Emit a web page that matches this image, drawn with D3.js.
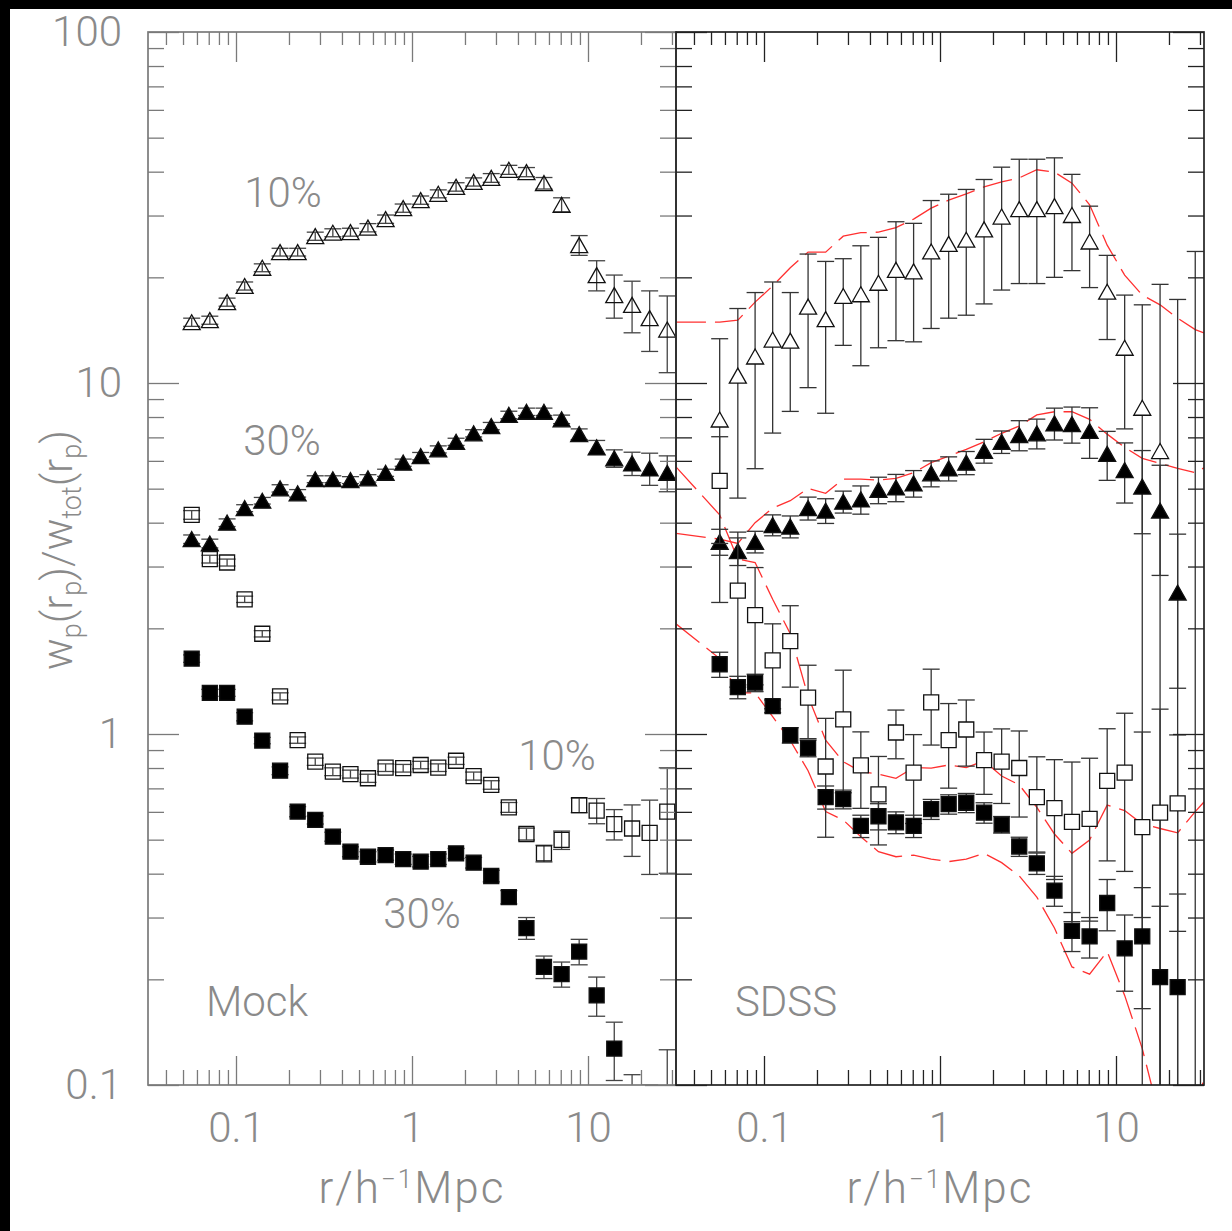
<!DOCTYPE html>
<html>
<head>
<meta charset="utf-8">
<script src="https://cdn.jsdelivr.net/npm/d3@7"></script>
<style>
  body { margin: 0; background: #000; }
  svg text { font-family: Roboto, "DejaVu Sans", sans-serif; font-weight: 300; fill: #8a8a8a; }
</style>
</head>
<body>
<svg id="chart" width="1232" height="1231"></svg>
<script>
// projected-separation bins, h^-1 Mpc
const rp = [0.056, 0.071, 0.089, 0.112, 0.141, 0.178, 0.224, 0.282, 0.355, 0.447, 0.562, 0.708, 0.891, 1.12,
            1.41, 1.78, 2.24, 2.82, 3.55, 4.47, 5.62, 7.08, 8.91, 11.2, 14.1, 17.8, 22.4, 28.2];

// mock catalogue (left panel)
const mockTri10 = [14.9, 15.1, 17.0, 18.9, 21.3, 23.6, 23.6, 26.2, 26.8, 26.9, 27.7, 29.3, 31.5, 33.2,
                   34.6, 36.2, 37.4, 38.4, 40.5, 39.9, 37.1, 32.2, 24.7, 20.3, 17.8, 16.7, 15.3, 14.2];
const mockTri10Err = [0.4, 0.4, 0.45, 0.5, 0.55, 0.6, 0.6, 0.7, 0.7, 0.7, 0.75, 0.8, 0.85, 0.9,
                      0.9, 1.0, 1.0, 1.1, 1.2, 1.2, 1.4, 1.5, 1.6, 2.0, 2.5, 2.8, 3.0, 3.5];
const mockTri30 = [3.59, 3.49, 4.00, 4.40, 4.62, 5.01, 4.85, 5.32, 5.32, 5.29, 5.35, 5.55, 5.93, 6.19,
                   6.47, 6.80, 7.19, 7.54, 8.11, 8.28, 8.28, 7.88, 7.15, 6.56, 6.10, 5.90, 5.71, 5.55];
const mockTri30Err = [0.1, 0.1, 0.1, 0.1, 0.1, 0.12, 0.12, 0.12, 0.12, 0.12, 0.13, 0.13, 0.14, 0.15,
                      0.15, 0.16, 0.17, 0.18, 0.2, 0.2, 0.2, 0.22, 0.25, 0.3, 0.35, 0.45, 0.6, 0.65];
const mockSq10 = [4.21, 3.15, 3.08, 2.42, 1.93, 1.28, 0.961, 0.834, 0.781, 0.769, 0.748, 0.802, 0.799, 0.816,
                  0.802, 0.839, 0.759, 0.716, 0.618, 0.519, 0.457, 0.499, 0.627, 0.605, 0.554, 0.538, 0.523, 0.601];
const mockSq10Err = [0.12, 0.08, 0.07, 0.05, 0.04, 0.03, 0.02, 0.02, 0.02, 0.02, 0.02, 0.02, 0.02, 0.02,
                     0.02, 0.02, 0.02, 0.02, 0.02, 0.02, 0.025, 0.03, 0.03, 0.05, 0.055, 0.09, 0.125, 0.2];
const mockSq30 = [1.64, 1.31, 1.31, 1.12, 0.958, 0.786, 0.601, 0.569, 0.510, 0.462, 0.447, 0.452, 0.440, 0.433,
                  0.440, 0.457, 0.430, 0.394, 0.343, 0.280, 0.217, 0.207, 0.240, 0.180, 0.127, 0.080, 0.070, 0.080];
const mockSq30Err = [0.04, 0.03, 0.03, 0.03, 0.02, 0.02, 0.02, 0.015, 0.015, 0.015, 0.015, 0.015, 0.015, 0.015,
                     0.015, 0.015, 0.015, 0.015, 0.015, 0.02, 0.016, 0.017, 0.02, 0.023, 0.024, 0.027, 0.03, 0.046];

// SDSS (right panel); null = no point
const sdssTri10 = [7.87, 10.5, 11.9, 13.3, 13.2, 16.5, 15.2, 17.7, 17.9, 19.3, 21.0, 20.8, 23.7, 24.9,
                   25.6, 27.4, 29.8, 31.3, 31.3, 31.9, 30.1, 25.3, 18.2, 12.6, 8.5, 6.4, -3, -5];
const sdssTri10Err = [5.5, 5.8, 6.2, 6.1, 4.9, 6.8, 7.0, 4.9, 6.7, 6.7, 7.8, 7.7, 9.4, 9.6,
                      10.0, 10.6, 11.4, 12.1, 12.1, 11.9, 9.2, 6.6, 4.9, 5.2, 8.2, 12.7, 20.3, 28.7];
const sdssTri30 = [3.53, 3.32, 3.53, 3.94, 3.90, 4.40, 4.33, 4.59, 4.66, 4.96, 5.04, 5.18, 5.53, 5.71,
                   5.93, 6.41, 6.80, 7.11, 7.19, 7.68, 7.64, 7.30, 6.28, 5.65, 5.07, 4.33, 2.53, null];
const sdssTri30Err = [0.3, 0.3, 0.25, 0.27, 0.28, 0.33, 0.35, 0.33, 0.43, 0.43, 0.45, 0.45, 0.47, 0.45,
                      0.45, 0.5, 0.5, 0.7, 0.7, 0.8, 0.9, 1.2, 1.0, 1.1, 1.35, 1.5, 1.18, null];
const sdssSq10 = [5.26, 2.56, 2.18, 1.62, 1.84, 1.27, 0.808, 1.10, 0.814, 0.673, 1.01, 0.776, 1.23, 0.961,
                  1.03, 0.843, 0.834, 0.80, 0.661, 0.615, 0.562, 0.573, 0.735, 0.776, 0.543, 0.597, 0.634, null];
const sdssSq10Err = [1.77, 1.2, 0.8, 0.44, 0.48, 0.3, 0.3, 0.42, 0.2, 0.19, 0.16, 0.22, 0.3, 0.26,
                     0.22, 0.17, 0.2, 0.22, 0.2, 0.23, 0.27, 0.28, 0.3, 0.37, 0.47, 0.58, 0.36, null];
const sdssSq30 = [1.58, 1.36, 1.40, 1.20, 0.992, 0.911, 0.661, 0.652, 0.547, 0.583, 0.560, 0.547, 0.611, 0.631,
                  0.637, 0.597, 0.552, 0.478, 0.428, 0.358, 0.275, 0.265, 0.330, 0.245, 0.265, 0.203, 0.190, null];
const sdssSq30Err = [0.13, 0.1, 0.08, 0.05, 0.05, 0.05, 0.05, 0.04, 0.04, 0.05, 0.04, 0.04, 0.04, 0.04,
                     0.04, 0.04, 0.03, 0.03, 0.03, 0.035, 0.035, 0.035, 0.055, 0.06, 0.1, 0.12, 0.16, null];

// mock curves repeated as red dashes on the SDSS panel, running out to the panel edges
const rEdge = [0.0316, 31.6];
const redStart = [14.9, 3.73, 5.77, 2.06];
const redEnd = [13.9, 5.73, 0.64, 0.105];

const xTickVals = [0.1, 1, 10];
const xTickLabels = ["0.1", "1", "10"];
const yTickVals = [0.1, 1, 10, 100];
const yTickLabels = ["0.1", "1", "10", "100"];

const svg = d3.select("#chart");
svg.append("rect").attr("x", 10).attr("y", 9).attr("width", 1222).attr("height", 1222).attr("fill", "#fff");

const top_ = 32, bottom = 1085;
const y = d3.scaleLog().domain([0.1, 100]).range([bottom, top_]);
const xL = d3.scaleLog().domain([Math.pow(10, -1.5), Math.pow(10, 1.5)]).range([148, 676]);
const xR = xL.copy().range([676, 1204]);

const isMajor = t => Math.abs(Math.log10(t) - Math.round(Math.log10(t))) < 1e-6;

function addAxis(axis, tx, ty, col, sw) {
  const g = svg.append("g").attr("transform", `translate(${tx},${ty})`)
    .call(axis).attr("font-size", null).attr("font-family", null).attr("color", col);
  g.select(".domain").remove();
  g.selectAll(".tick line").attr("stroke-width", sw);
  g.selectAll(".tick text").style("font-size", "42px");
  return g;
}

function drawFrame(x, x0, x1, col, sw, labels) {
  const minorX = x.ticks().filter(t => !isMajor(t));
  const minorY = y.ticks().filter(t => !isMajor(t));
  // bottom
  addAxis(d3.axisBottom(x).tickValues(minorX).tickSize(-15).tickFormat(""), 0, bottom, col, sw);
  addAxis(d3.axisBottom(x).tickValues(xTickVals).tickSize(-29).tickPadding(27)
    .tickFormat((d, i) => xTickLabels[i]), 0, bottom, col, sw);
  // top
  addAxis(d3.axisTop(x).tickValues(minorX).tickSize(-13).tickFormat(""), 0, top_, col, sw);
  addAxis(d3.axisTop(x).tickValues(xTickVals).tickSize(-30).tickFormat(""), 0, top_, col, sw);
  // left
  addAxis(d3.axisLeft(y).tickValues(minorY).tickSize(-16).tickFormat(""), x0, 0, col, sw);
  addAxis(d3.axisLeft(y).tickValues(yTickVals).tickSize(-31).tickPadding(26)
    .tickFormat((d, i) => labels ? yTickLabels[i] : ""), x0, 0, col, sw);
  // right
  addAxis(d3.axisRight(y).tickValues(minorY).tickSize(-16).tickFormat(""), x1, 0, col, sw);
  addAxis(d3.axisRight(y).tickValues(yTickVals).tickSize(-31).tickFormat(""), x1, 0, col, sw);

  svg.append("rect").attr("x", x0).attr("y", top_).attr("width", x1 - x0).attr("height", bottom - top_)
    .attr("fill", "none").attr("stroke", col).attr("stroke-width", sw + 0.4);
}

const triPath = "M0,-7.5L8.5,7.5L-8.5,7.5Z";
const sqPath = "M-7.5,-7.5H7.5V7.5H-7.5Z";

function drawSeries(g, x, vals, errs, shape, filled, openFill, barCol) {
  const pts = rp.map((r, i) => ({ r, v: vals[i], e: errs[i] })).filter(d => d.v !== null);
  const hi = d => y(d.v + d.e);
  const lo = d => d.v - d.e > 0 ? y(d.v - d.e) : bottom + 40;
  const cw = 8.5;
  g.selectAll(null).data(pts).join("line")
    .attr("x1", d => x(d.r)).attr("x2", d => x(d.r))
    .attr("y1", hi).attr("y2", lo)
    .attr("stroke", barCol).attr("stroke-width", 1.3);
  g.selectAll(null).data(pts).join("line")
    .attr("x1", d => x(d.r) - cw).attr("x2", d => x(d.r) + cw)
    .attr("y1", hi).attr("y2", hi)
    .attr("stroke", barCol).attr("stroke-width", 1.3);
  g.selectAll(null).data(pts.filter(d => d.v - d.e > 0)).join("line")
    .attr("x1", d => x(d.r) - cw).attr("x2", d => x(d.r) + cw)
    .attr("y1", lo).attr("y2", lo)
    .attr("stroke", barCol).attr("stroke-width", 1.3);
  g.selectAll(null).data(pts.filter(d => d.v > 0)).join("path")
    .attr("d", shape === "tri" ? triPath : sqPath)
    .attr("transform", d => `translate(${x(d.r)},${y(d.v)})`)
    .attr("fill", filled ? "#000" : openFill)
    .attr("stroke", "#111").attr("stroke-width", 1.3);
}

// clip regions
const defs = svg.append("defs");
[["clipL", 148], ["clipR", 676]].forEach(([id, x0]) => {
  defs.append("clipPath").attr("id", id).append("rect")
    .attr("x", x0).attr("y", top_).attr("width", 528).attr("height", bottom - top_);
});

// left: mock
const gL = svg.append("g").attr("clip-path", "url(#clipL)");
drawSeries(gL, xL, mockTri10, mockTri10Err, "tri", false, "none", "#444");
drawSeries(gL, xL, mockTri30, mockTri30Err, "tri", true, "none", "#444");
drawSeries(gL, xL, mockSq10, mockSq10Err, "sq", false, "none", "#444");
drawSeries(gL, xL, mockSq30, mockSq30Err, "sq", true, "none", "#444");

// right: SDSS with mock curves as red dashes
const gR = svg.append("g").attr("clip-path", "url(#clipR)");
const redLine = d3.line().x(d => xR(d[0])).y(d => y(d[1]));
[mockTri10, mockTri30, mockSq10, mockSq30].forEach((m, k) => {
  const pts = [[rEdge[0], redStart[k]]].concat(rp.map((r, i) => [r, m[i]]), [[rEdge[1], redEnd[k]]]);
  gR.append("path").datum(pts).attr("d", redLine)
    .attr("fill", "none").attr("stroke", "#ff3030").attr("stroke-width", 1.3)
    .attr("stroke-dasharray", "30,9");
});
drawSeries(gR, xR, sdssTri10, sdssTri10Err, "tri", false, "#fff", "#333");
drawSeries(gR, xR, sdssTri30, sdssTri30Err, "tri", true, "#fff", "#333");
drawSeries(gR, xR, sdssSq10, sdssSq10Err, "sq", false, "#fff", "#333");
drawSeries(gR, xR, sdssSq30, sdssSq30Err, "sq", true, "#fff", "#333");

drawFrame(xL, 148, 676, "#7a7a7a", 1.3, true);
drawFrame(xR, 676, 1204, "#222", 1.3, false);

// annotations
const notes = [
  { t: "10%", x: 283, y: 192 }, { t: "30%", x: 282, y: 440 },
  { t: "10%", x: 557, y: 755 }, { t: "30%", x: 422, y: 913 },
  { t: "Mock", x: 257, y: 1001 }, { t: "SDSS", x: 786, y: 1001 }
];
svg.selectAll(null).data(notes).join("text")
  .attr("x", d => d.x).attr("y", d => d.y).attr("dy", "0.36em")
  .attr("text-anchor", "middle").style("font-size", "42px").text(d => d.t);

// axis titles
[412, 940].forEach(cx => {
  const t = svg.append("text").attr("x", cx).attr("y", 1203).attr("text-anchor", "middle")
    .style("font-size", "44px").style("letter-spacing", "2px");
  t.append("tspan").text("r/h");
  t.append("tspan").attr("dy", -15).style("font-size", "26px").text("−1");
  t.append("tspan").attr("dy", 15).text("Mpc");
});

const yt = svg.append("text").attr("transform", "translate(72,550) rotate(-90)")
  .attr("text-anchor", "middle").style("font-size", "42px");
const sub = (s) => { yt.append("tspan").attr("dy", 9).style("font-size", "27px").text(s); };
const main = (s) => { yt.append("tspan").attr("dy", -9).text(s); };
yt.append("tspan").text("w");
sub("p"); main("(r"); sub("p"); main(")/w"); sub("tot"); main("(r"); sub("p"); main(")");
</script>
</body>
</html>
